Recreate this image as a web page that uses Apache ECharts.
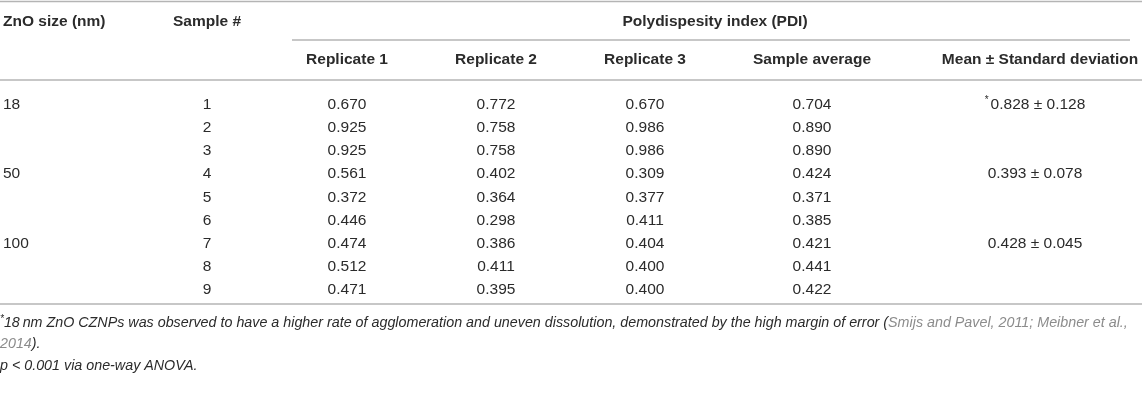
<!DOCTYPE html>
<html>
<head>
<meta charset="utf-8">
<script src="https://cdn.jsdelivr.net/npm/echarts@6/dist/echarts.min.js"></script>
<style>
html,body{margin:0;padding:0;background:#fff;}
#chart{width:1144px;height:403px;}
</style>
</head>
<body>
<div id="chart"></div>
<script>
// ---- data ----
const znoSizes = ['18', '', '', '50', '', '', '100', '', ''];
const sampleNums = [1, 2, 3, 4, 5, 6, 7, 8, 9];
const replicate1 = [0.670, 0.925, 0.925, 0.561, 0.372, 0.446, 0.474, 0.512, 0.471];
const replicate2 = [0.772, 0.758, 0.758, 0.402, 0.364, 0.298, 0.386, 0.411, 0.395];
const replicate3 = [0.670, 0.986, 0.986, 0.309, 0.377, 0.411, 0.404, 0.400, 0.400];
const sampleAverage = [0.704, 0.890, 0.890, 0.424, 0.371, 0.385, 0.421, 0.441, 0.422];
const groupMean = [0.828, 0.393, 0.428];
const groupSD = [0.128, 0.078, 0.045];
const groupFlag = ['*', '', ''];
const groupRows = [0, 3, 6];
const header1 = ['ZnO size (nm)', 'Sample #', 'Polydispesity index (PDI)'];
const header2 = ['Replicate 1', 'Replicate 2', 'Replicate 3', 'Sample average', 'Mean \u00b1 Standard deviation'];
const footnote1a = '18\u2009nm ZnO CZNPs was observed to have a higher rate of agglomeration and uneven dissolution, demonstrated by the high margin of error (';
const footnote1b = 'Smijs and Pavel, 2011; Meibner et al.,';
const footnote2a = '2014';
const footnote2b = ').';
const footnote3 = 'p < 0.001 via one-way ANOVA.';

// ---- layout (pixels in axis units) ----
const W = 1144, H = 403;
const colX = [3, 207, 347, 496, 645, 812, 1035];
const meanHeadX = 1040;
const pdiCenter = 715;
const yHead1 = 22, yHead2 = 59.5, yRow0 = 104.5, rowStep = 23.2;
const yTopRule = 1.5, yPdiRule = 40, yHeadRule = 80, yBottomRule = 304;
const pdiRuleX = [292, 1130];
const yFoot = [323, 344, 366];

const FONT = '"Liberation Sans", Arial, Helvetica, sans-serif';
const TXT = '#2b2b2b', GRAY = '#8c8c8c', RULE = '#b4b4b4';
const FS = 15.5, FFS = 14.3;

function fmt(v) { return v.toFixed(3); }

function renderTable(params, api) {
  const kids = [];
  const P = (x, y) => api.coord([x, y]);
  function text(x, y, str, align, opt) {
    const p = P(x, y);
    kids.push({
      type: 'text', x: p[0], y: p[1], silent: true,
      style: Object.assign({
        text: str, fill: TXT, fontFamily: FONT, fontSize: FS,
        align: align, verticalAlign: 'middle',
        textAlign: align, textVerticalAlign: 'middle'
      }, opt || {})
    });
  }
  function rule(x1, x2, y) {
    const a = P(x1, y), b = P(x2, y);
    kids.push({ type: 'line', silent: true, shape: { x1: a[0], y1: a[1], x2: b[0], y2: b[1] },
      style: { stroke: RULE, lineWidth: 1.6 } });
  }
  rule(0, W - 2, yTopRule);
  rule(pdiRuleX[0], pdiRuleX[1], yPdiRule);
  rule(0, W - 2, yHeadRule);
  rule(0, W - 2, yBottomRule);

  const bold = { fontWeight: 'bold' };
  text(colX[0], yHead1, header1[0], 'left', bold);
  text(colX[1], yHead1, header1[1], 'center', bold);
  text(pdiCenter, yHead1, header1[2], 'center', bold);
  for (let i = 0; i < header2.length; i++) {
    const hx = i === header2.length - 1 ? meanHeadX : colX[i + 2];
    text(hx, yHead2, header2[i], 'center', bold);
  }

  for (let r = 0; r < sampleNums.length; r++) {
    const y = yRow0 + r * rowStep;
    if (znoSizes[r]) text(colX[0], y, znoSizes[r], 'left');
    text(colX[1], y, String(sampleNums[r]), 'center');
    text(colX[2], y, fmt(replicate1[r]), 'center');
    text(colX[3], y, fmt(replicate2[r]), 'center');
    text(colX[4], y, fmt(replicate3[r]), 'center');
    text(colX[5], y, fmt(sampleAverage[r]), 'center');
  }
  for (let g = 0; g < groupMean.length; g++) {
    const y = yRow0 + groupRows[g] * rowStep;
    const s = (groupFlag[g] ? '{s|' + groupFlag[g] + '}' : '') + '{n|' + fmt(groupMean[g]) + ' \u00b1 ' + fmt(groupSD[g]) + '}';
    text(colX[6], y, s, 'center', {
      rich: {
        s: { fontSize: 10, fontFamily: FONT, fill: TXT, verticalAlign: 'top', lineHeight: 14, padding: [0, 2, 0, 0] },
        n: { fontSize: FS, fontFamily: FONT, fill: TXT, lineHeight: 18 }
      }
    });
  }
  const it = { fontStyle: 'italic', fontFamily: FONT, fontSize: FFS };
  const richF = {
    s: { fill: TXT, fontSize: 10, verticalAlign: 'top', lineHeight: 13, fontStyle: 'italic', fontFamily: FONT },
    a: Object.assign({ fill: TXT, lineHeight: 17 }, it),
    g: Object.assign({ fill: GRAY, lineHeight: 17 }, it)
  };
  text(0, yFoot[0], '{s|*}{a|' + footnote1a + '}{g|' + footnote1b + '}', 'left', { rich: richF });
  text(0, yFoot[1], '{g|' + footnote2a + '}{a|' + footnote2b + '}', 'left', { rich: richF });
  text(0, yFoot[2], '{a|' + footnote3 + '}', 'left', { rich: richF });
  return { type: 'group', children: kids };
}

const chart = echarts.init(document.getElementById('chart'), null, { renderer: 'canvas' });
chart.setOption({
  animation: false,
  backgroundColor: '#ffffff',
  grid: { left: 0, right: 0, top: 0, bottom: 0 },
  xAxis: { type: 'value', min: 0, max: W, show: false },
  yAxis: { type: 'value', min: 0, max: H, inverse: true, show: false },
  series: [{
    type: 'custom',
    coordinateSystem: 'cartesian2d',
    data: [[0, 0]],
    renderItem: renderTable,
    silent: true
  }]
});
</script>
</body>
</html>
